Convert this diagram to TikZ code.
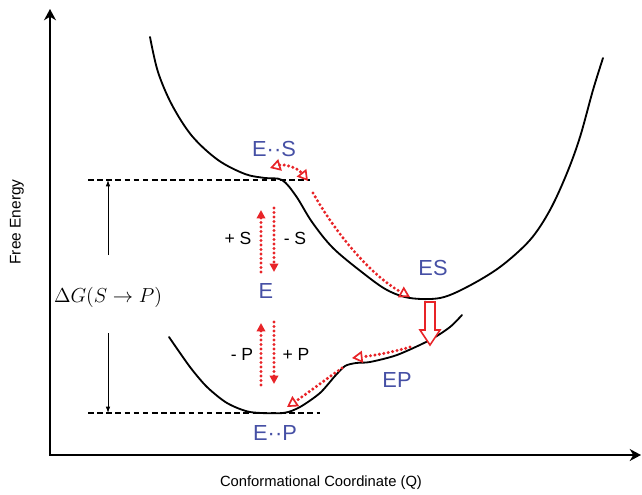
\documentclass[tikz,border=0pt]{standalone}
\usepackage{fontspec}
\setmainfont{Liberation Sans}
\usepackage{xcolor}
\usetikzlibrary{arrows.meta}
\definecolor{speciesblue}{RGB}{70,80,165}
\definecolor{hopred}{RGB}{232,36,40}
\tikzset{
  axisline/.style={
    line width=1.6pt,
    {Stealth[length=8pt,width=8.5pt,inset=2.5pt]}-{Stealth[length=8pt,width=8.5pt,inset=2.5pt]}
  },
  surface/.style={line width=1.3pt, line join=round, line cap=round},
  refline/.style={line width=0.9pt, dash pattern=on 4pt off 2.5pt},
  dgarrow/.style={line width=0.6pt, -{Latex[length=4.5pt,width=3.2pt]}},
  species/.style={text=speciesblue, font=\fontsize{15.5}{17}\selectfont, inner sep=0pt},
  ligand/.style={font=\fontsize{12.5}{14}\selectfont, inner sep=0pt},
  hop/.style={
    draw=hopred,
    line width=2.4pt,
    dash pattern=on 0pt off 3.2pt,
    line cap=round
  },
  hopopen/.style={hop, -{Triangle[open,length=7.5pt,width=8.5pt,line width=1.2pt]}},
  hopfill/.style={hop, -{Triangle[length=6pt,width=6pt]}},
  conversion/.style={draw=hopred, line width=1.1pt, fill=white, line join=miter}
}

\begin{document}
\begin{tikzpicture}[x=0.025cm, y=-0.025cm]
  \useasboundingbox (0,0) rectangle (642,494);

  \coordinate (ytop) at (50,9);
  \coordinate (origin) at (50,455);
  \coordinate (xend) at (641,455);
  \draw[axisline] (ytop) -- (origin) -- (xend);

  \node[rotate=90, font=\fontsize{11}{13}\selectfont] (ylabel) at (17,222) {Free Energy};
  \node[font=\fontsize{10.5}{12}\selectfont] (xlabel) at (321,483) {Conformational Coordinate (Q)};

  \draw[surface] plot[smooth, tension=0.55] coordinates {
    (150,37) (158,72) (172,105) (192,136) (218,160) (245,174) (265,178) (282,180)
    (296,196) (312,222) (333,248) (363,273) (387,290) (410,298) (440,298)
    (467,287) (500,267) (530,240) (550,210) (567,173) (580,137) (593,90) (603,58)};

  \draw[surface] plot[smooth, tension=0.45] coordinates {
    (169,337) (190,367) (207,387) (227,403) (250,412) (283,413) (300,407)
    (320,393) (335,376) (345,366) (356,363) (370,362) (397,355) (430,340)
    (450,327) (462,315)};

  \coordinate (esleft) at (88,180);
  \coordinate (esright) at (310,180);
  \coordinate (epleft) at (88,413);
  \coordinate (epright) at (320,413);
  \draw[refline] (esleft) -- (esright);
  \draw[refline] (epleft) -- (epright);

  \node[font=\fontsize{13.5}{15}\selectfont, inner sep=0pt] (dG) at (108,297) {$\Delta G(S\rightarrow P)$};
  \coordinate (dGup) at (108,255);
  \coordinate (dGdown) at (108,333);
  \draw[dgarrow] (dGup) -- (esleft -| dGup);
  \draw[dgarrow] (dGdown) -- (epleft -| dGdown);

  \node[species] (ES1) at (274,149) {E··S};
  \node[species] (ES) at (433,268) {ES};
  \node[species] (E) at (266,291) {E};
  \node[species] (EP) at (397,380) {EP};
  \node[species] (EP1) at (275,433) {E··P};

  \node[ligand] (plusS) at (238,238) {+ S};
  \node[ligand] (minusS) at (295,238) {- S};
  \node[ligand] (minusP) at (242,354) {- P};
  \node[ligand] (plusP) at (296,354) {+ P};

  \coordinate (a1) at (270,168);
  \coordinate (a2) at (308,181);
  \coordinate (b1) at (313,193);
  \coordinate (b2) at (410,297);
  \coordinate (c1) at (410,347);
  \coordinate (c2) at (352,358);
  \coordinate (d1) at (342,368);
  \coordinate (d2) at (287,407);

  \draw[hopopen, {Triangle[open,length=7.5pt,width=8.5pt,line width=1.2pt]}-{Triangle[open,length=7.5pt,width=8.5pt,line width=1.2pt]}]
    (a1) .. controls (283,164) and (297,167) .. (a2);
  \draw[hopopen] (b1) .. controls (335,232) and (370,275) .. (b2);
  \draw[hopopen] (c1) .. controls (390,353) and (370,356) .. (c2);
  \draw[hopopen] (d1) .. controls (325,380) and (305,395) .. (d2);

  \draw[hopfill] (261,272) -- (261,210);
  \draw[hopfill] (274,208) -- (274,272);
  \draw[hopfill] (261,385) -- (261,323);
  \draw[hopfill] (274,322) -- (274,384);

  \coordinate (hollow) at (430,302);
  \draw[conversion] (hollow) ++(-5,0) -- ++(10,0) -- ++(0,28) -- ++(5,0)
    -- (430,345) -- (420,330) -- (425,330) -- cycle;
\end{tikzpicture}
\end{document}
